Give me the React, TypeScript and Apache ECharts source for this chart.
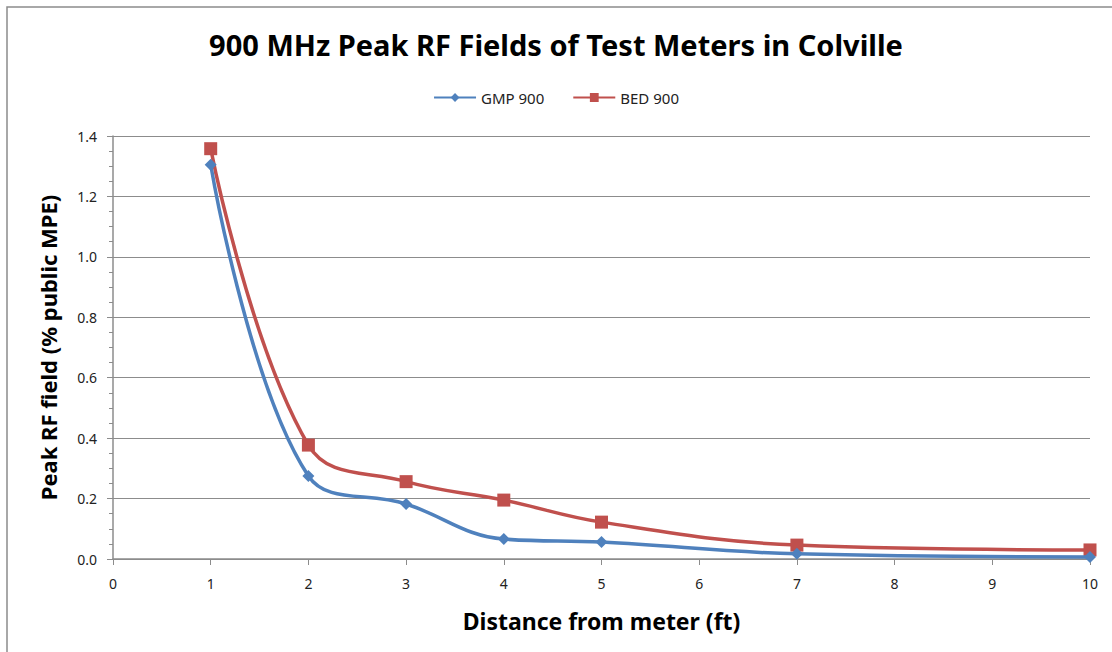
import React, { useEffect, useRef } from "react";
import * as echarts from "echarts";

const distances = [1, 2, 3, 4, 5, 7, 10];
const gmp900 = [1.305, 0.275, 0.182, 0.066, 0.056, 0.017, 0.007];
const bed900 = [1.358, 0.377, 0.256, 0.195, 0.122, 0.046, 0.03];
const seriesNames = ["GMP 900", "BED 900"];
const titleText = "900 MHz Peak RF Fields of Test Meters in Colville";
const xName = "Distance from meter (ft)";
const yName = "Peak RF field (% public MPE)";

export default function App() {
  const ref = useRef<HTMLDivElement>(null);
  useEffect(() => {
    if (!ref.current) return;
    const chart = echarts.init(ref.current, null, { renderer: "svg" });
    const font = "'Noto Sans', 'Open Sans', sans-serif";
    chart.setOption({
      animation: false,
      backgroundColor: "#ffffff",
      textStyle: { fontFamily: font },
      title: {
        text: titleText,
        left: "center",
        top: 25,
        textStyle: { fontSize: 29, fontWeight: "bold", color: "#000", fontFamily: font },
      },
      legend: {
        top: 85,
        left: "center",
        itemWidth: 42,
        itemHeight: 11,
        itemGap: 28,
        textStyle: { fontSize: 15, color: "#222", fontFamily: font },
        data: seriesNames,
      },
      graphic: [
        {
          type: "rect",
          shape: { x: 7, y: 7, width: 1130, height: 670 },
          style: { fill: "none", stroke: "#8c8c8c", lineWidth: 1.5 },
          silent: true,
        },
      ],
      grid: { left: 113, right: 22, top: 136, bottom: 93 },
      xAxis: {
        type: "value",
        min: 0,
        max: 10,
        interval: 1,
        name: xName,
        nameLocation: "middle",
        nameGap: 50,
        nameTextStyle: { fontSize: 23, fontWeight: "bold", color: "#000", fontFamily: font },
        axisLine: { show: true, onZero: false, lineStyle: { color: "#8c8c8c", width: 1.5 } },
        axisTick: { show: true, inside: false, length: 6, lineStyle: { color: "#8c8c8c" } },
        axisLabel: { fontSize: 14, color: "#222", margin: 17 },
        splitLine: { show: false },
      },
      yAxis: {
        type: "value",
        min: 0,
        max: 1.4,
        interval: 0.2,
        name: yName,
        nameLocation: "middle",
        nameGap: 54,
        nameTextStyle: { fontSize: 22, fontWeight: "bold", color: "#000", fontFamily: font },
        axisLine: { show: true, lineStyle: { color: "#8c8c8c", width: 1.5 } },
        axisTick: { show: true, inside: false, length: 6, lineStyle: { color: "#8c8c8c" } },
        minorTick: { show: true, splitNumber: 4, length: 4, lineStyle: { color: "#8c8c8c" } },
        axisLabel: { fontSize: 14, color: "#222", margin: 16, formatter: (v: number) => v.toFixed(1) },
        splitLine: { show: true, lineStyle: { color: "#8c8c8c", width: 1.2 } },
      },
      series: [
        {
          name: seriesNames[0],
          type: "line",
          smooth: 0.4,
          data: distances.map((d, i) => [d, gmp900[i]]),
          symbol: "diamond",
          symbolSize: 12,
          lineStyle: { color: "#4F81BD", width: 3.5 },
          itemStyle: { color: "#4F81BD" },
          z: 3,
        },
        {
          name: seriesNames[1],
          type: "line",
          smooth: 0.4,
          data: distances.map((d, i) => [d, bed900[i]]),
          symbol: "rect",
          symbolSize: 13,
          lineStyle: { color: "#C0504D", width: 3.5 },
          itemStyle: { color: "#C0504D" },
          z: 2,
        },
      ],
    });
    return () => chart.dispose();
  }, []);
  return (
    <div
      ref={ref}
      style={{ position: "absolute", left: 0, top: 0, width: 1112, height: 652 }}
    />
  );
}
